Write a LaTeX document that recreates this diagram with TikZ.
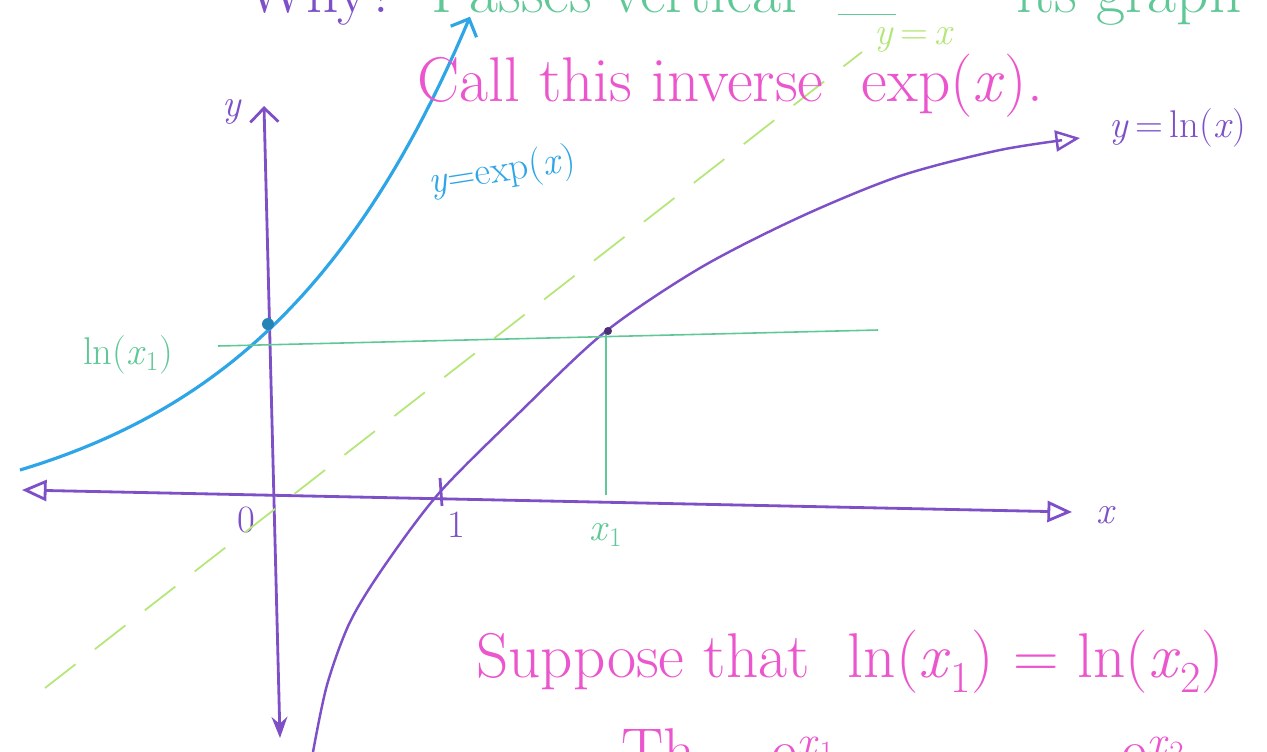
\documentclass[tikz,border=0pt]{standalone}
\usepackage{tikz}
\usetikzlibrary{arrows.meta, positioning, calc}
\definecolor{penpurple}{RGB}{125,80,200}
\definecolor{penblue}{RGB}{45,165,230}
\definecolor{penteal}{RGB}{95,200,150}
\definecolor{penlime}{RGB}{180,230,120}
\definecolor{penpink}{RGB}{235,85,205}
\newcommand{\xsub}[1]{\textit{x}\textsubscript{#1}}

\begin{document}
\begin{tikzpicture}[x=0.02cm, y=-0.02cm,
  axis/.style={penpurple, line width=1.6pt},
  curve/.style={line width=1.8pt},
  guide/.style={penteal, line width=0.9pt},
  note/.style={text=penpink, font=\fontsize{36}{40}\selectfont},
  lbl/.style={font=\fontsize{22}{26}\selectfont},
  opentip/.tip={Triangle[open, length=14pt, width=12pt]},
]
\useasboundingbox (0,0) rectangle (1267,751);
\clip (0,0) rectangle (1267,751);

% axes
\coordinate (xl) at (22,490);
\coordinate (xr) at (1072,512);
\coordinate (yt) at (264,106);
\coordinate (yb) at (280,738);
\draw[axis, opentip-opentip] (xl) -- (xr);
\draw[axis, {Straight Barb[length=8pt]}-{Stealth[length=12pt]}] (yt) -- (yb);
\node[lbl, text=penpurple] (ylab) at (232,112) {\textit{y}};
\node[lbl, text=penpurple] (xlab) at (1106,515) {\textit{x}};

% ticks
\coordinate (tk1a) at (440,478);
\coordinate (tk1b) at (442,506);
\draw[axis] (tk1a) -- (tk1b);
\node[lbl, text=penpurple] (zero) at (246,520) {0};
\node[lbl, text=penpurple] (one)  at (456,525) {1};

% y = x
\coordinate (idl) at (45,688);
\coordinate (idr) at (862,52);
\draw[penlime, line width=1pt, dash pattern=on 22pt off 14pt] (idl) -- (idr);
\node[lbl, text=penlime] (idlab) at (914,40) {\textit{y}\,=\,\textit{x}};

% y = exp(x)
\draw[curve, penblue, -{Straight Barb[length=8pt]}]
  plot[domain=20:470, samples=60] (\x, {490 - (65.7*exp(0.0046*(\x-20)) - 45.7)});
\node[lbl, text=penblue, rotate=9] (explab) at (502,172) {\textit{y}=exp(\textit{x})};

% y = ln(x)
\draw[curve, penpurple, line width=1.4pt, -opentip] plot[smooth] coordinates
  {(313,752) (327,685) (350,622) (385,565) (440,492) (520,412) (605,332) (700,268) (800,217) (900,176) (1000,150) (1080,138)};
\node[lbl, text=penpurple] (lnlab) at (1178,128) {\textit{y}\,=\,ln(\textit{x})};

% the point x_1
\coordinate (hl) at (218,346);
\coordinate (hr) at (878,330);
\coordinate (vt) at (606,333);
\coordinate (vb) at (606,495);
\draw[guide] (hl) -- (hr);
\draw[guide] (vt) -- (vb);
\fill[penblue!80!black] (268,324) circle (6);
\fill[penpurple!60!black] (608,331) circle (4);
\node[lbl, text=penteal] (lnx1) at (128,355) {ln(\xsub{1})};
\node[lbl, text=penteal] (x1)   at (606,535) {\xsub{1}};

% notes
\node[note] (call) at (730,86) {Call this inverse \ exp(\textit{x}).};
\node[note] (supp) at (850,662) {Suppose that \ ln(\xsub{1}) = ln(\xsub{2})};
\node[note, anchor=base west] (then) at (615,772) {Th};
\node[note, anchor=base west] (ex1) at (765,772) {e\textsuperscript{\xsub{1}}};
\node[note, anchor=base west] (ex2) at (1115,772) {e\textsuperscript{\xsub{2}}};
\node[note, text=penpurple, anchor=base west] (why) at (240,12) {Why?};
\node[note, text=penteal, anchor=base west] (pass) at (425,12) {Passes vertical};
\node[note, text=penteal, anchor=base west] (blank) at (832,12) {\underline{\ \ \ }};
\node[note, text=penteal, anchor=base west] (graph) at (1010,12) {its graph};
\end{tikzpicture}
\end{document}
